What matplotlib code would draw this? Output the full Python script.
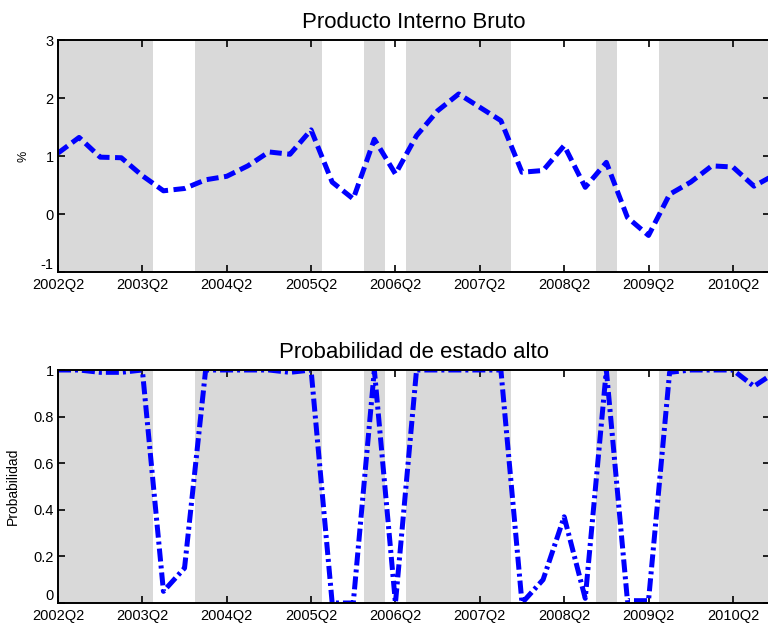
import numpy as np
import matplotlib
matplotlib.use("Agg")
import matplotlib.pyplot as plt

plt.rcParams['font.family'] = ['Liberation Sans', 'DejaVu Sans']
plt.rcParams['axes.unicode_minus'] = False

# Quarterly series starting at 2002Q2 (index 0)
gdp = [1.05, 1.32, 0.98, 0.97, 0.66, 0.40, 0.44, 0.59, 0.65, 0.83,
       1.07, 1.03, 1.45, 0.55, 0.26, 1.29, 0.69, 1.35, 1.78, 2.07,
       1.84, 1.61, 0.72, 0.75, 1.18, 0.46, 0.89, -0.06, -0.37, 0.34,
       0.55, 0.83, 0.81, 0.48, 0.68]
prob_high = [1.00, 1.00, 0.99, 0.99, 1.00, 0.05, 0.15, 1.00, 1.00, 1.00,
             1.00, 0.99, 1.00, 0.00, 0.00, 1.00, 0.00, 1.00, 1.00, 1.00,
             1.00, 1.00, 0.00, 0.10, 0.37, 0.02, 1.00, 0.01, 0.01, 0.99,
             1.00, 1.00, 1.00, 0.93, 0.99]
tick_pos = [0, 4, 8, 12, 16, 20, 24, 28, 32]
tick_labels = ["2002Q2", "2003Q2", "2004Q2", "2005Q2", "2006Q2",
               "2007Q2", "2008Q2", "2009Q2", "2010Q2"]

t = np.arange(len(gdp))
shade = np.array(prob_high) > 0.5

fig = plt.figure(figsize=(7.68, 6.23), dpi=100)
left = 58 / 768
width = (770 - 58) / 768
ax1 = fig.add_axes([left, 1 - 272 / 623, width, 232 / 623])
ax2 = fig.add_axes([left, 1 - 603 / 623, width, 233 / 623])

gray = '#d9d9d9'

def shade_regimes(ax):
    for i, s in enumerate(shade):
        if s:
            ax.axvspan(i - 0.5, i + 0.5, facecolor=gray, edgecolor='none',
                       zorder=0)

def style(ax):
    ax.set_xlim(0, 33.76)
    ax.set_xticks(tick_pos)
    ax.set_xticklabels(tick_labels)
    ax.tick_params(direction='in', length=5, width=1.2, top=True,
                   right=True, labelsize=10.5, colors='black')
    ax.tick_params(axis='x', pad=4.5)
    ax.tick_params(axis='y', pad=3)
    # lift the lowest y label clear of the date labels
    ax.get_yticklabels()[0].set_verticalalignment('bottom')
    for sp in ax.spines.values():
        sp.set_linewidth(1.4)
        sp.set_zorder(5)

shade_regimes(ax1)
l1, = ax1.plot(t, gdp, color='#0000ff', lw=3.6, linestyle='--', zorder=3)
l1.set_dashes((2.4, 1.1))
ax1.set_ylim(-1, 3)
ax1.set_yticks([-1, 0, 1, 2, 3])
ax1.set_title("Producto Interno Bruto", fontsize=16, pad=9)
ax1.set_ylabel("%", fontsize=9, labelpad=8.5)
style(ax1)

shade_regimes(ax2)
l2, = ax2.plot(t, prob_high, color='#0000ff', lw=3.6, linestyle='-.',
               zorder=3)
l2.set_dashes((2.6, 0.8, 0.6, 0.8))
ax2.set_ylim(0, 1)
ax2.set_yticks([0, 0.2, 0.4, 0.6, 0.8, 1])
ax2.set_yticklabels(["0", "0.2", "0.4", "0.6", "0.8", "1"])
ax2.set_title("Probabilidad de estado alto", fontsize=16, pad=9)
ax2.set_ylabel("Probabilidad", fontsize=10, labelpad=10)
style(ax2)

fig.savefig("out.png", dpi=100)
